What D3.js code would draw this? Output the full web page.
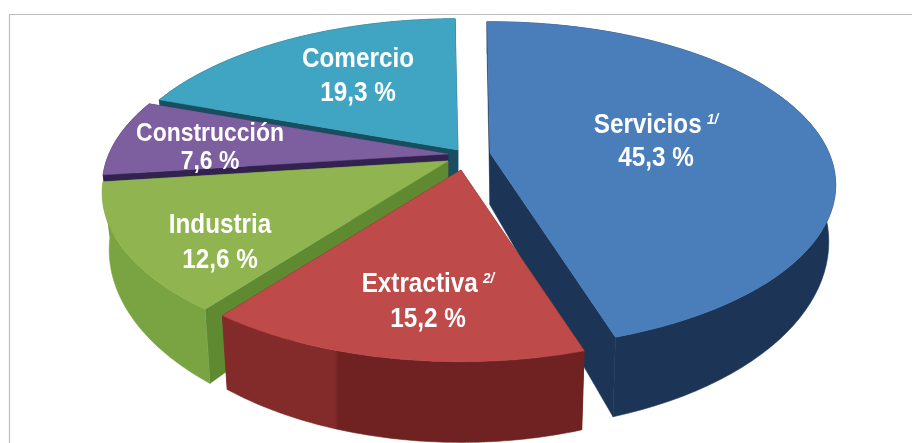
<!DOCTYPE html>
<html><head><meta charset="utf-8">
<style>html,body{margin:0;padding:0;background:#fff}svg{display:block}
text{font-family:"Liberation Sans",Arial,sans-serif;font-weight:bold;fill:#fff;text-anchor:middle}</style>
<script src="https://cdnjs.cloudflare.com/ajax/libs/d3/7.8.5/d3.min.js"></script>
</head><body><svg id="c" width="912" height="443"></svg>
<script>
const categories = ["Servicios","Extractiva","Industria","Construcción","Comercio"];
const values = [45.3,15.2,12.6,7.6,19.3];
const valueLabels = ["45,3 %","15,2 %","12,6 %","7,6 %","19,3 %"];
const notes = ["1/","2/","","",""];
const topColors = ["#4a7ebb","#be4b48","#90b44f","#7d5fa0","#40a4c3"];
const sideColors = ["#1c3557","#702322","#5f8a33","#33204f","#17505f"];
const rimLeft = ["#1c3557","#832c2b","#7aa443","#33204f","#17505f"];
const rimRight = ["#1c3557","#702322","#7aa443","#33204f","#17505f"];

// layout
const W=912,H=443;
const apex=[[490,153],[461,170],[448,161],[448,154],[458,150]];
const radius=[1,0.985,1,1,1];
const labelPos=[[656,133,166],[428,292,327],[220,233,268],[210,141,169],[358,67,101]];
const labelSize=[27,27,27,25.5,27];
const drawOrder=[4,3,2,0,1];
const START=-0.6*Math.PI/180;

// perspective projection of the tilted disc
const A=339,B=157,P=0.196,LOW_X=0.98,LOW_Y=1.15,LOW_D=52;
const project=(i,theta,r,low)=>{
  const u=Math.sin(theta)*r, v=-Math.cos(theta)*r, s=1/(1-P*v);
  let X=u*s*A, Y=v*s*B;
  if(low){X*=LOW_X;Y=Y*LOW_Y+LOW_D;}
  return [apex[i][0]+X,apex[i][1]+Y];
};

const pie=d3.pie().sort(null).startAngle(START).endAngle(START+2*Math.PI);
const arcs=pie(values);
const svg=d3.select("#c");
const line=d3.line();
const defs=svg.append("defs");
defs.append("filter").attr("id","soft").append("feGaussianBlur").attr("stdDeviation",0.45);

// frame
const frame=d3.path();frame.moveTo(W,14.5);frame.lineTo(9.5,14.5);frame.lineTo(9.5,H);
svg.append("path").attr("d",frame.toString()).attr("fill","none").attr("stroke","#bdbdbd").attr("stroke-width",1.2);

const sampleArc=(a,b)=>d3.range(0,73).map(k=>a+(b-a)*k/72);
const g=svg.append("g").attr("filter","url(#soft)");
drawOrder.forEach(i=>{
  const d=arcs[i], r=radius[i];
  const thetas=sampleArc(d.startAngle,d.endAngle);
  const topPts=thetas.map(t=>project(i,t,r,false));
  const lowPts=thetas.map(t=>project(i,t,r,true));
  const c=project(i,0,0,false), cl=project(i,0,0,true);
  // radial walls
  [0,72].forEach(k=>{
    g.append("path").attr("d",line([c,topPts[k],lowPts[k],cl])+"Z").attr("fill",sideColors[i]).attr("stroke",sideColors[i]).attr("stroke-width",.5);
  });
  // outer wall, with a facet break
  const gid="rim"+i;
  const lg=defs.append("linearGradient").attr("id",gid).attr("gradientUnits","userSpaceOnUse")
    .attr("x1",d3.min(topPts,p=>p[0])).attr("x2",d3.max(topPts,p=>p[0])).attr("y1",0).attr("y2",0);
  [[0,rimLeft[i]],[.31,rimLeft[i]],[.32,rimRight[i]],[1,rimRight[i]]].forEach(([o,col])=>
    lg.append("stop").attr("offset",o).attr("stop-color",col));
  g.append("path").attr("d",line(topPts.concat(lowPts.slice().reverse()))+"Z").attr("fill",`url(#${gid})`).attr("stroke",`url(#${gid})`).attr("stroke-width",.6);
  // top
  g.append("path").attr("d",line([c].concat(topPts))+"Z").attr("fill",topColors[i]).attr("stroke",topColors[i]).attr("stroke-width",.5);
});

const tg=svg.append("g").attr("filter","url(#soft)");
categories.forEach((name,i)=>{
  const [x,y1,y2]=labelPos[i];
  const t=tg.append("text").attr("transform",`translate(${x},${y1}) scale(.9,1)`).attr("font-size",labelSize[i]);
  t.append("tspan").text(name);
  if(notes[i]) t.append("tspan").attr("font-size",15).attr("font-style","italic").attr("dx",6).attr("dy",-9).text(notes[i]);
  tg.append("text").attr("transform",`translate(${x},${y2}) scale(.9,1)`).attr("font-size",labelSize[i]).text(valueLabels[i]);
});
</script></body></html>
